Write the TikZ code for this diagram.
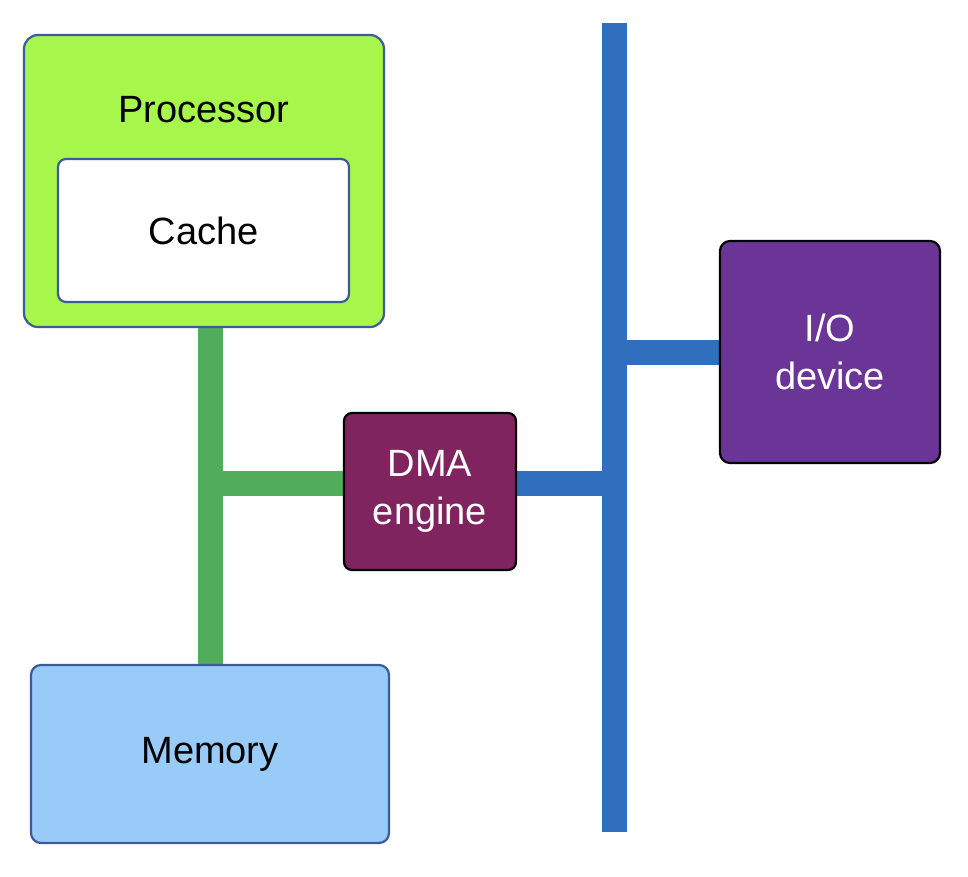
\documentclass[tikz,border=0pt]{standalone}
\usepackage{fontspec}
\setmainfont{Liberation Sans}
\usetikzlibrary{backgrounds}
\definecolor{procfill}{HTML}{A6F64C}
\definecolor{boxline}{HTML}{3D5A99}
\definecolor{membus}{HTML}{52AD5A}
\definecolor{iobus}{HTML}{2F6FBD}
\definecolor{dmafill}{HTML}{80245F}
\definecolor{iofill}{HTML}{6A3597}
\definecolor{memfill}{HTML}{99CBF8}
\tikzset{
  box/.style={draw, rectangle, line width=2.2pt, inner sep=0pt, align=center,
    font=\fontsize{38}{48}\selectfont},
  greenbus/.style={draw=membus, line width=25pt, line cap=butt},
  bluebus/.style={draw=iobus, line width=25pt, line cap=butt},
  lbl/.style={inner sep=0pt, font=\fontsize{38}{48}\selectfont}
}
\begin{document}
\begin{tikzpicture}[x=1pt,y=-1pt]
\useasboundingbox (0,0) rectangle (968,876);
% nodes
\node[box, draw=boxline, fill=procfill, rounded corners=14pt, minimum width=360pt, minimum height=292pt] (proc) at (204,181) {};
\node[lbl, anchor=base] (proctext) at (204,122) {Processor};
\node[box, draw=boxline, fill=white, rounded corners=8pt, minimum width=291pt, minimum height=143pt] (cache) at (203.5,230.5) {Cache};
\node[box, draw=boxline, fill=memfill, rounded corners=10pt, minimum width=358pt, minimum height=178pt] (mem) at (210,754) {Memory};
\node[box, draw=black, fill=dmafill, text=white, rounded corners=8pt, minimum width=172pt, minimum height=157pt] (dma) at (430,491.5) {DMA\\engine};
\node[box, draw=black, fill=iofill, text=white, rounded corners=10pt, minimum width=220pt, minimum height=222pt] (io) at (830,352) {I/O\\device};
% bus coordinates
\coordinate (bustop) at (614.5,23);
\coordinate (busbot) at (614.5,832);
\coordinate (gj) at (210.5,483);
\coordinate (bj) at (614.5,483);
% connectors
\begin{scope}[on background layer]
\draw[greenbus] (proc.south -| mem.north) -- (mem.north);
\draw[greenbus] (gj) -- (gj -| dma.west);
\draw[bluebus] (bj -| dma.east) -- (bj);
\draw[bluebus] (bustop) -- (busbot);
\draw[bluebus] (io.west) -- (io.west -| bustop);
\end{scope}
\end{tikzpicture}
\end{document}
